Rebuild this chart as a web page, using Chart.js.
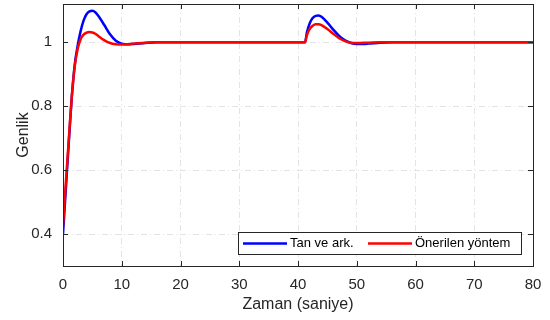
<!DOCTYPE html>
<html>
<head>
<meta charset="utf-8">
<script src="https://cdn.jsdelivr.net/npm/chart.js@4.4.1/dist/chart.umd.min.js"></script>
<style>
html,body{margin:0;padding:0;background:#fff;}
#wrap{width:550px;height:320px;}
</style>
</head>
<body>
<div id="wrap"><canvas id="c" width="550" height="320"></canvas></div>
<script>
// ---- data ----
const seriesLabels = ["Tan ve ark.", "Önerilen yöntem"];
const timeTan = [0,0.5,1,1.5,2,2.5,3,3.5,4,4.5,5,5.5,6,7,8,9,10,11,12,14,16,20,30,41.2,41.5,42,42.5,43,43.5,44,45,46,47,48,49,50,51,52,54,56,60,70,80];
const valTan  = [0.40,0.545,0.69,0.83,0.93,0.99,1.035,1.068,1.088,1.097,1.099,1.094,1.083,1.055,1.025,1.005,0.996,0.994,0.995,0.998,1.0,1.0,1.0,1.0,1.03,1.06,1.076,1.083,1.084,1.08,1.062,1.04,1.02,1.006,0.998,0.995,0.995,0.996,0.999,1.0,1.0,1.0,1.0];
const timeOner = [0,0.5,1,1.5,2,2.5,3,3.5,4,4.5,5,5.5,6,7,8,9,10,11,12,14,16,20,30,41.2,41.5,42,42.5,43,43.5,44,45,46,47,48,49,50,52,54,60,70,80];
const valOner  = [0.425,0.565,0.70,0.83,0.925,0.98,1.01,1.024,1.03,1.032,1.031,1.027,1.02,1.007,0.998,0.994,0.993,0.994,0.996,0.999,1.0,1.0,1.0,1.0,1.022,1.042,1.052,1.057,1.057,1.054,1.042,1.027,1.013,1.004,0.999,0.998,0.999,1.0,1.0,1.0,1.0];
const xTicks = [0,10,20,30,40,50,60,70,80];
const yTicks = [0.4,0.6,0.8,1];
const xTitle = "Zaman (saniye)";
const yTitle = "Genlik";

const pts = (t, v) => t.map((x, i) => ({x: x, y: v[i]}));
const FONT = "'Liberation Sans', Arial, sans-serif";

const framePlugin = {
  id: 'frame',
  afterDraw(chart) {
    const ctx = chart.ctx, a = chart.chartArea;
    const xs = chart.scales.x, ys = chart.scales.y;
    ctx.save();
    ctx.strokeStyle = '#262626';
    ctx.lineWidth = 1;
    ctx.setLineDash([]);
    ctx.beginPath();
    const L = 5;
    xTicks.forEach(v => {
      const px = Math.round(xs.getPixelForValue(v)) + 0.5;
      ctx.moveTo(px, a.bottom); ctx.lineTo(px, a.bottom - L);
      ctx.moveTo(px, a.top); ctx.lineTo(px, a.top + L);
    });
    yTicks.forEach(v => {
      const py = Math.round(ys.getPixelForValue(v)) + 0.5;
      ctx.moveTo(a.left, py); ctx.lineTo(a.left + L, py);
      ctx.moveTo(a.right, py); ctx.lineTo(a.right - L, py);
    });
    ctx.stroke();
    ctx.strokeRect(Math.round(a.left) + 0.5, Math.round(a.top) + 0.5, Math.round(a.right - a.left), Math.round(a.bottom - a.top));

    // legend (inside, bottom-right)
    const bx = 238, by = 232, bw = 283, bh = 22;
    ctx.fillStyle = '#fff';
    ctx.fillRect(bx, by, bw, bh);
    ctx.strokeStyle = '#262626';
    ctx.strokeRect(bx + 0.5, by + 0.5, bw, bh);
    ctx.font = '13px ' + FONT;
    ctx.textBaseline = 'middle';
    ctx.textAlign = 'left';
    const cy = by + bh / 2 + 0.5;
    const items = [{x: 243}, {x: 368}];
    chart.data.datasets.forEach((ds, i) => {
      const x0 = items[i].x;
      ctx.strokeStyle = ds.borderColor;
      ctx.lineWidth = 2.5;
      ctx.beginPath();
      ctx.moveTo(x0, cy); ctx.lineTo(x0 + 44, cy);
      ctx.stroke();
      ctx.fillStyle = '#000';
      ctx.fillText(ds.label, x0 + 47, cy);
    });
    ctx.restore();
  }
};

new Chart(document.getElementById('c'), {
  type: 'line',
  data: {
    datasets: [
      {label: seriesLabels[0], data: pts(timeTan, valTan), borderColor: '#0000ff', borderWidth: 2.5, pointRadius: 0, cubicInterpolationMode: 'monotone', fill: false, order: 2},
      {label: seriesLabels[1], data: pts(timeOner, valOner), borderColor: '#ff0000', borderWidth: 2.5, pointRadius: 0, cubicInterpolationMode: 'monotone', fill: false, order: 1}
    ]
  },
  options: {
    responsive: false,
    animation: false,
    devicePixelRatio: 1,
    layout: {padding: {top: 4, right: 17, left: 0, bottom: 0}},
    plugins: {legend: {display: false}, tooltip: {enabled: false}},
    scales: {
      x: {
        type: 'linear', min: 0, max: 80,
        afterBuildTicks: s => { s.ticks = xTicks.map(v => ({value: v})); },
        afterFit: s => { s.height = 54; s.paddingLeft = 0; s.paddingRight = 0; },
        grid: {color: '#e3e3e3', lineWidth: 1, drawTicks: false},
        border: {display: false, dash: [6, 3, 1, 3]},
        ticks: {color: '#262626', font: {family: FONT, size: 15}, padding: 10, maxRotation: 0},
        title: {display: true, text: xTitle, color: '#262626', font: {family: FONT, size: 16}, padding: {top: 0, bottom: 6}}
      },
      y: {
        type: 'linear', min: 0.3, max: 1.12,
        afterBuildTicks: s => { s.ticks = yTicks.map(v => ({value: v})); },
        afterFit: s => { s.width = 63; s.paddingTop = 0; s.paddingBottom = 0; },
        grid: {color: '#e3e3e3', lineWidth: 1, drawTicks: false},
        border: {display: false, dash: [6, 3, 1, 3]},
        ticks: {color: '#262626', font: {family: FONT, size: 15}, padding: 11, callback: v => String(+v.toFixed(2))},
        title: {display: true, text: yTitle, color: '#262626', font: {family: FONT, size: 16}, padding: {top: 14, bottom: 0}}
      }
    }
  },
  plugins: [framePlugin]
});
</script>
</body>
</html>
